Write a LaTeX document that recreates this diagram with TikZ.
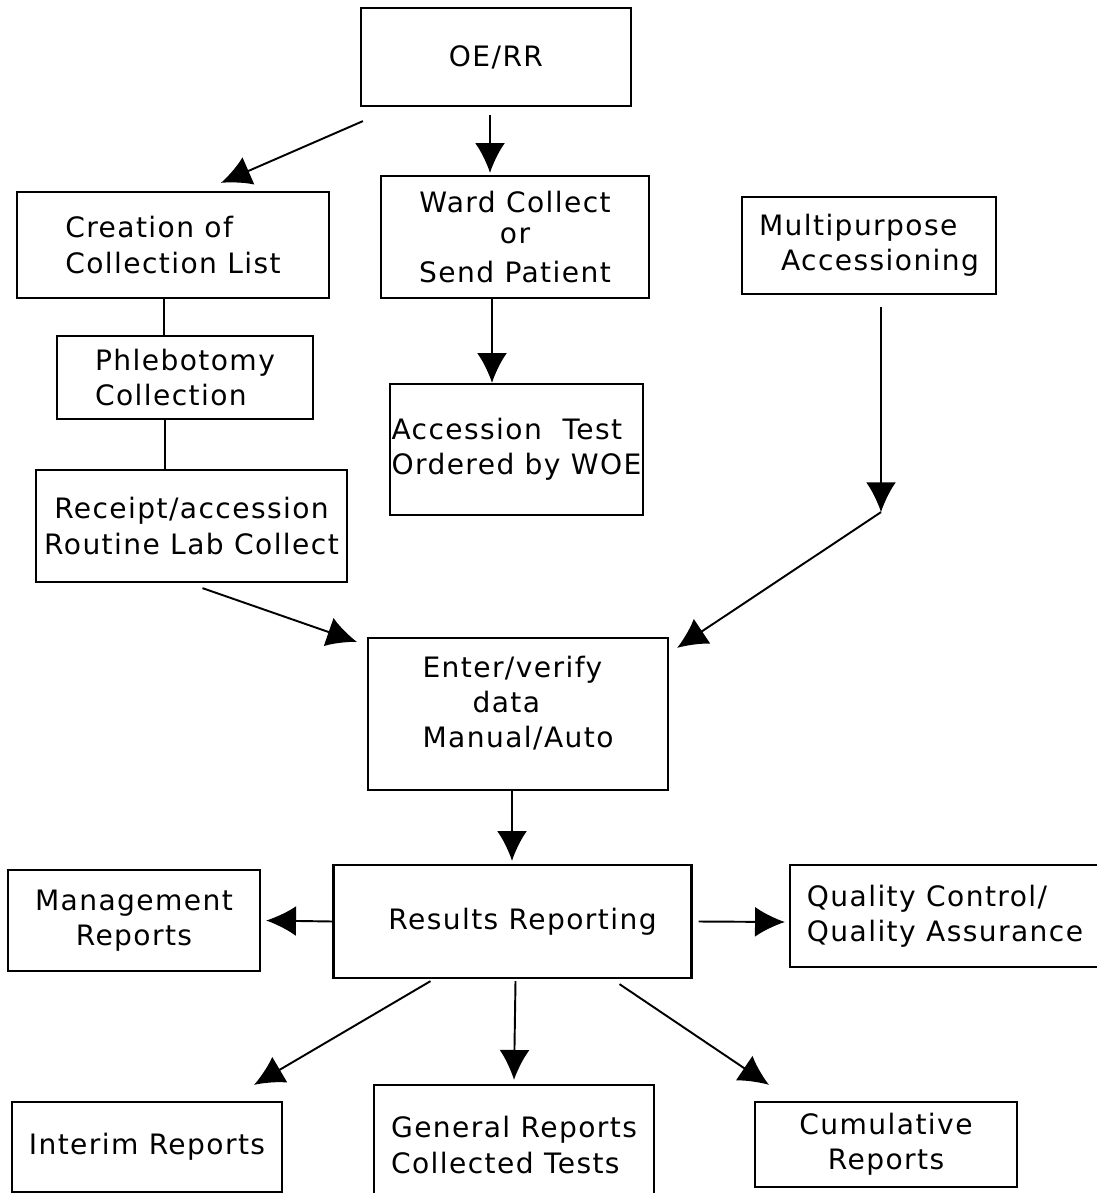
\documentclass[tikz,border=0pt]{standalone}
\usepackage{fontspec}
\setmainfont{DejaVu Sans}[LetterSpace=5]
\usetikzlibrary{arrows.meta,calc}

\tikzset{
  box/.style={draw, line width=1.3pt, inner sep=1pt, font=\fontsize{16}{20}\selectfont},
  arr/.style={line width=1.1pt, -{Latex[length=17pt,width=17pt]}},
  link/.style={line width=1pt},
}

\begin{document}
\begin{tikzpicture}[x=0.02cm, y=-0.02cm]
\useasboundingbox (0,0) rectangle (1096,1193);

% top part
\node[box, minimum width=5.4cm, minimum height=1.96cm] (oerr) at (496,57) {OE/RR};
\node[box, align=left, minimum width=6.24cm, minimum height=2.12cm] (creation) at (173,245) {Creation of\\Collection List};
\node[box, align=center, minimum width=5.36cm, minimum height=2.44cm] (ward) at (515,237) {Ward Collect\\[-2pt]or\\[2pt]Send Patient};
\node[box, align=left, minimum width=5.08cm, minimum height=1.94cm] (multi) at (869,245.5) {Multipurpose\\\hspace*{0.44cm}Accessioning};
\node[box, align=left, minimum width=5.12cm, minimum height=1.66cm] (phleb) at (185,377.5) {Phlebotomy\\Collection};
\node[box, align=left, minimum width=5.06cm, minimum height=2.62cm] (access) at (516.5,449.5) {Accession\ \ Test\\Ordered by WOE};
\node[box, align=center, minimum width=6.22cm, minimum height=2.24cm] (receipt) at (191.5,526) {Receipt/accession\\Routine Lab Collect};

% middle
\node[box, align=left, minimum width=6cm, minimum height=3.04cm] (enter) at (518,714) {Enter/verify\\\hspace*{1cm}data\\Manual/Auto\\[-6pt]\mbox{}};
\node[box, minimum width=7.16cm, minimum height=2.26cm] (results) at (512.5,921.5) {\hspace*{0.4cm}Results Reporting};
\node[box, align=center, minimum width=5.04cm, minimum height=2.02cm] (mgmt) at (134,920.5) {Management\\Reports};
\node[box, align=left, minimum width=6.2cm, minimum height=2.04cm] (qc) at (945,916) {Quality Control/\\Quality Assurance};

% reports
\node[box, minimum width=5.4cm, minimum height=1.8cm] (interim) at (147,1147) {Interim Reports};
\node[box, align=left, minimum width=5.6cm, minimum height=2.4cm] (general) at (514,1145) {General Reports\\Collected Tests};
\node[box, align=center, minimum width=5.24cm, minimum height=1.7cm] (cumul) at (886,1144.5) {Cumulative\\Reports};

% connectors
\draw[arr] ($(oerr.south west)+(3,14)$) -- ($(creation.north)+(48,-8)$);
\draw[arr] ($(oerr.south)+(-6,8)$) -- ($(ward.north)+(-25,-2)$);
\draw[link] ($(creation.south)+(-9,0)$) coordinate (c1) -- (c1 |- phleb.north);
\draw[link] ($(phleb.south)+(-20,0)$) coordinate (c2) -- (c2 |- receipt.north);
\draw[arr] ($(ward.south)+(-23,0)$) coordinate (c3) -- (c3 |- access.north);
\coordinate (bend) at ($(multi.south)+(12,217)$);
\draw[arr] ($(multi.south)+(12,12)$) -- (bend);
\draw[arr] (bend) -- ($(enter.north east)+(8,11)$);
\draw[arr] ($(receipt.south)+(11,5)$) -- ($(enter.north west)+(-10,5)$);
\draw[arr] ($(enter.south)+(-6,0)$) coordinate (c4) -- ($(c4 |- results.north)+(0,-3)$);
\draw[arr] (results.west) -- ($(mgmt.east)+(5,0)$);
\draw[arr] ($(results.east)+(6,0)$) -- ($(qc.west)+(-4,6)$);
\draw[arr] ($(results.south)+(-82,2)$) -- ($(interim.north)+(107,-16)$);
\draw[arr] ($(results.south)+(3,2)$) -- ($(general.north)+(0,-4)$);
\draw[arr] ($(results.south)+(107,5)$) -- ($(cumul.north)+(-117,-16)$);

\end{tikzpicture}
\end{document}
